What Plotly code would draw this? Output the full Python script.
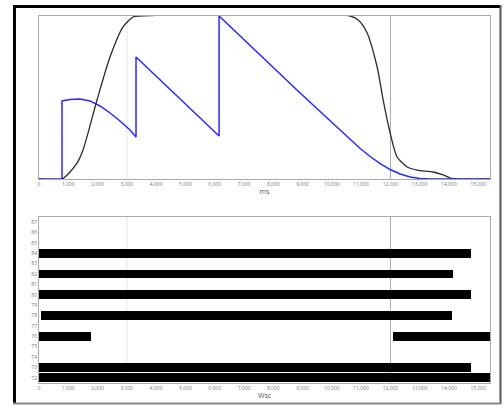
import plotly.graph_objects as go

# ---- top chart data (ms, relative level) ----
black_t = [0, 786, 1298, 1503, 1981, 2425, 2869, 3211, 3450, 10624, 10900, 11204, 11546,
           11751, 11990, 12229, 12571, 12912, 13459, 13801, 14040, 14210, 15400]
black_v = [0, 0, 0.098, 0.178, 0.485, 0.748, 0.933, 0.994, 1.0, 1.0, 0.975, 0.896, 0.687,
           0.485, 0.282, 0.135, 0.074, 0.055, 0.043, 0.025, 0.006, 0, 0]

blue_t = [0, 786, 786, 1059, 1400, 1742, 2084, 2425, 2767, 3108, 3313, 3313, 6149, 6149,
          8916, 10282, 10624, 10966, 11307, 11649, 11990, 12332, 12673, 13015, 13357, 15400]
blue_v = [0, 0, 0.479, 0.488, 0.491, 0.479, 0.448, 0.405, 0.356, 0.301, 0.258, 0.748, 0.264, 1.0,
          0.528, 0.301, 0.239, 0.187, 0.138, 0.095, 0.058, 0.031, 0.012, 0.003, 0, 0]

# ---- bottom chart data ----
row_labels = ["87", "86", "85", "84", "83", "82", "81", "80",
              "79", "78", "77", "76", "75", "74", "73", "72"]
seg_rows = ["84", "82", "80", "78", "76", "76", "73", "72"]
seg_start = [0, 0, 0, 60, 0, 12090, 0, 0]
seg_end = [14760, 14140, 14760, 14110, 1780, 15400, 14760, 15400]

x_title_top = "ms"
x_title_bottom = "Wsc"
marker_lines = [3000, 12000]

W, H = 504, 407
def px_x(p):
    return p / W
def px_y(p):
    return (H - p) / H

fig = go.Figure()
fig.add_trace(go.Scatter(x=black_t, y=black_v, mode="lines",
                         line=dict(color="#2b2b2b", width=1.3, shape="spline", smoothing=0.7),
                         xaxis="x", yaxis="y", showlegend=False))
fig.add_trace(go.Scatter(x=blue_t, y=blue_v, mode="lines",
                         line=dict(color="#2a2af0", width=1.5), xaxis="x", yaxis="y",
                         showlegend=False))
fig.add_trace(go.Bar(y=seg_rows, base=seg_start,
                     x=[e - s for s, e in zip(seg_start, seg_end)],
                     orientation="h", marker=dict(color="black", line=dict(width=0)),
                     width=0.85, xaxis="x2", yaxis="y2", showlegend=False))

tickvals = list(range(0, 15001, 1000))
xcommon = dict(range=[0, 15400], tickvals=tickvals, tickformat=",", showgrid=False,
               showline=True, linecolor="#aaaaaa", mirror=True, ticks="",
               tickfont=dict(size=5, color="#777777"), zeroline=False,
               domain=[px_x(39), px_x(490)])

fig.update_layout(
    width=W, height=H, margin=dict(l=0, r=0, t=0, b=0),
    paper_bgcolor="white", plot_bgcolor="white", bargap=0,
    xaxis=dict(**xcommon, anchor="y",
               title=dict(text=x_title_top, font=dict(size=7, color="#555555"), standoff=2)),
    yaxis=dict(range=[0, 1.0], domain=[px_y(179), px_y(16)], showticklabels=False,
               showgrid=False, showline=True, linecolor="#aaaaaa", mirror=True,
               zeroline=False, ticks="", anchor="x"),
    xaxis2=dict(**xcommon, anchor="y2",
                title=dict(text=x_title_bottom, font=dict(size=7, color="#555555"), standoff=2)),
    yaxis2=dict(domain=[px_y(383), px_y(217)], type="category",
                categoryorder="array", categoryarray=row_labels[::-1],
                range=[-0.5, 15.5], showgrid=False, showline=True, linecolor="#aaaaaa",
                mirror=True, ticks="", tickfont=dict(size=5, color="#777777"),
                anchor="x2"),
)

shapes = []
for xv, col in zip(marker_lines, ["#e4e4e4", "#aaaaaa"]):
    shapes.append(dict(type="line", xref="x", yref="y", x0=xv, x1=xv, y0=0, y1=1,
                       line=dict(color=col, width=1), layer="below"))
    shapes.append(dict(type="line", xref="x2", yref="y2 domain", x0=xv, x1=xv, y0=0, y1=1,
                       line=dict(color=col, width=1), layer="below"))
# outer frame
shapes.append(dict(type="line", xref="paper", yref="paper", x0=px_x(14.5), x1=px_x(14.5),
                   y0=px_y(404), y1=px_y(5), line=dict(color="black", width=3)))
shapes.append(dict(type="line", xref="paper", yref="paper", x0=px_x(13), x1=px_x(501),
                   y0=px_y(6.5), y1=px_y(6.5), line=dict(color="black", width=3)))
shapes.append(dict(type="line", xref="paper", yref="paper", x0=px_x(500.5), x1=px_x(500.5),
                   y0=px_y(404), y1=px_y(5), line=dict(color="#555555", width=2)))
shapes.append(dict(type="line", xref="paper", yref="paper", x0=px_x(13), x1=px_x(501),
                   y0=px_y(403.5), y1=px_y(403.5), line=dict(color="#888888", width=2)))
fig.update_layout(shapes=shapes)

fig.write_html("out.html")
